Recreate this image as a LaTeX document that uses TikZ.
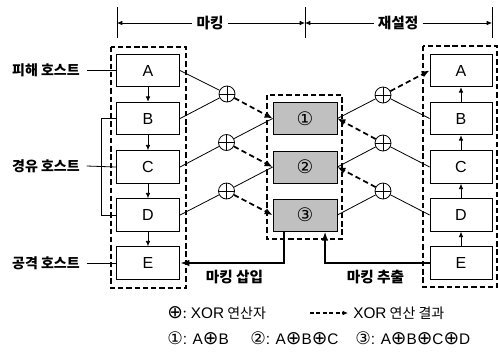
\documentclass[tikz,border=0pt]{standalone}
\usepackage{fontspec}
\setmainfont{Noto Sans CJK KR}
\newfontfamily\latin{Liberation Sans}
\newfontfamily\sym{DejaVu Sans}
\usetikzlibrary{arrows.meta,calc}
\definecolor{boxgray}{RGB}{192,192,192}
\newcommand{\xo}{{\sym\fontsize{14}{14}\selectfont ⊕}}
\newcommand{\cn}[1]{{\sym\fontsize{13}{13}\selectfont #1}}
\begin{document}
\begin{tikzpicture}[x=0.75pt,y=-0.75pt,
  hostbox/.style={draw,line width=0.6pt,minimum width=47.5pt,minimum height=24.5pt,inner sep=0pt,font=\latin\fontsize{12}{12}\selectfont},
  markbox/.style={hostbox,fill=boxgray,minimum width=48pt,minimum height=24pt,font=\sym\fontsize{14}{14}\selectfont},
  xorc/.style={circle,draw,line width=0.6pt,minimum size=12pt,inner sep=0pt,
    path picture={\draw[line width=0.6pt] (path picture bounding box.north) -- (path picture bounding box.south)
      (path picture bounding box.west) -- (path picture bounding box.east);}},
  group/.style={draw,dashed,line width=1.1pt,dash pattern=on 4pt off 2.2pt},
  res/.style={line width=1.3pt,dash pattern=on 4pt off 2.5pt,-{Latex[length=6pt,width=5pt]}},
  thin/.style={line width=0.6pt},
  down/.style={line width=0.6pt,-{Latex[length=4pt,width=3.5pt]}},
  thick/.style={line width=1.6pt,-{Latex[length=7pt,width=5pt]}},
  lbl/.style={font=\bfseries\fontsize{10.5}{10.5}\selectfont,inner sep=0pt},
  leg/.style={font=\fontsize{10.5}{10.5}\selectfont,inner sep=0pt,anchor=west},
  leg2/.style={font=\latin\fontsize{11.5}{11.5}\selectfont,inner sep=0pt,anchor=west}
]
\useasboundingbox (0,0) rectangle (498,351);
% groups
\draw[group] (111,47) rectangle (186,288);
\draw[group] (267,95) rectangle (342,239);
\draw[group] (423,46) rectangle (497,287);
% left boxes
\node[hostbox] (lA) at (148,70.5) {A};
\node[hostbox] (lB) at (148,118.5) {B};
\node[hostbox] (lC) at (148,167) {C};
\node[hostbox] (lD) at (148,215) {D};
\node[hostbox] (lE) at (148,263) {E};
% right boxes
\node[hostbox,minimum width=46.5pt] (rA) at (461,70.5) {A};
\node[hostbox,minimum width=46.5pt] (rB) at (461,118.5) {B};
\node[hostbox,minimum width=46.5pt] (rC) at (461,167) {C};
\node[hostbox,minimum width=46.5pt] (rD) at (461,215) {D};
\node[hostbox,minimum width=46.5pt] (rE) at (461,263) {E};
% mark boxes
\node[markbox] (g1) at (305,118.5) {①};
\node[markbox] (g2) at (305,167) {②};
\node[markbox] (g3) at (305,215) {③};
% xor circles
\node[xorc] (L1) at (227,94) {};
\node[xorc] (L2) at (226.5,142.5) {};
\node[xorc] (L3) at (226.5,191) {};
\node[xorc] (R1) at (383,95) {};
\node[xorc] (R2) at (383,143) {};
\node[xorc] (R3) at (383,191) {};
% vertical arrows
\foreach \a/\b in {lA/lB,lB/lC,lC/lD,lD/lE} \draw[down] (\a.south) -- (\b.north);
\foreach \a/\b in {rE/rD,rD/rC,rC/rB,rB/rA} \draw[down] (\a.north) -- (\b.south);
% left xor lines
\draw[thin] (lA.east) -- (L1);
\draw[thin] (lB.east) -- (L1);
\draw[thin] (lC.east) -- (L2) -- (g1.west);
\draw[thin] (lD.east) -- (L3) -- (g2.west);
\draw[res] (L1) -- (g1.west);
\draw[res] (L2) -- (g2.west);
\draw[res] (L3) -- (g3.west);
% right xor lines
\draw[thin] (g1.east) -- (R1) -- (rB.west);
\draw[thin] (g2.east) -- (R2) -- (rC.west);
\draw[thin] (g3.east) -- (R3) -- (rD.west);
\draw[res] (R1) -- (rA.west);
\draw[res] (R2) -- (g1.east);
\draw[res] (R3) -- (g2.east);
% bracket
\draw[thin] (lB.west) -- ++(-15,0) |- (lD.west);
% host labels
\node[lbl,anchor=east] (t1) at (80,70.5) {피해 호스트};
\node[lbl,anchor=east] (t2) at (80,166) {경유 호스트};
\node[lbl,anchor=east] (t3) at (80,263) {공격 호스트};
\draw[thin] ([xshift=5]t1.east) -- (lA.west);
\draw[thin] ([xshift=5]t2.east) -- (lC.west);
\draw[thin] ([xshift=5]t3.east) -- (lE.west);
% bottom arrows
\coordinate (ins) at ([xshift=-16]g3.south);
\coordinate (ext) at ([xshift=15]g3.south);
\draw[thick] (ins) |- (lE.east);
\draw[thick] (rE.west) -| (ext);
\node[lbl,font=\bfseries\fontsize{11}{11}\selectfont] at (234.5,277) {마킹 삽입};
\node[lbl,font=\bfseries\fontsize{11}{11}\selectfont] at (375.5,277) {마킹 추출};
% top dimensions
\coordinate (k1t) at (117,7); \coordinate (k1b) at (117,38);
\coordinate (k2t) at (305,7); \coordinate (k2b) at (305,38);
\coordinate (k3t) at (492,7); \coordinate (k3b) at (492,38);
\draw[thin] (k1t) -- (k1b);
\draw[thin] (k2t) -- (k2b);
\draw[thin] (k3t) -- (k3b);
\node[lbl,font=\bfseries\fontsize{11}{11}\selectfont,inner sep=3pt] (m1) at (210,23) {마킹};
\node[lbl,font=\bfseries\fontsize{11}{11}\selectfont,inner sep=3pt] (m2) at (398,23) {재설정};
\coordinate (d1) at (117,23); \coordinate (d2) at (305,23); \coordinate (d3) at (492,23);
\draw[down] (m1.west) -- (d1);
\draw[down] (m1.east) -- (d2);
\draw[down] (m2.west) -- (d2);
\draw[down] (m2.east) -- (d3);
% legend
\node[leg] at (167,313) {\xo: {\latin\fontsize{11.5}{11.5}\selectfont XOR} 연산자};
\coordinate (la1) at (310,313); \coordinate (la2) at (348,313);
\draw[line width=0.9pt,dash pattern=on 3pt off 1.8pt,-{Latex[length=4pt,width=3.5pt]}] (la1) -- (la2);
\node[leg] at (353,313) {{\latin\fontsize{11.5}{11.5}\selectfont XOR} 연산 결과};
\node[leg2] at (167,338) {\cn{①}: A\xo B};
\node[leg2] at (250,338) {\cn{②}: A\xo B\xo C};
\node[leg2] at (355,338) {\cn{③}: A\xo B\xo C\xo D};
\end{tikzpicture}
\end{document}
